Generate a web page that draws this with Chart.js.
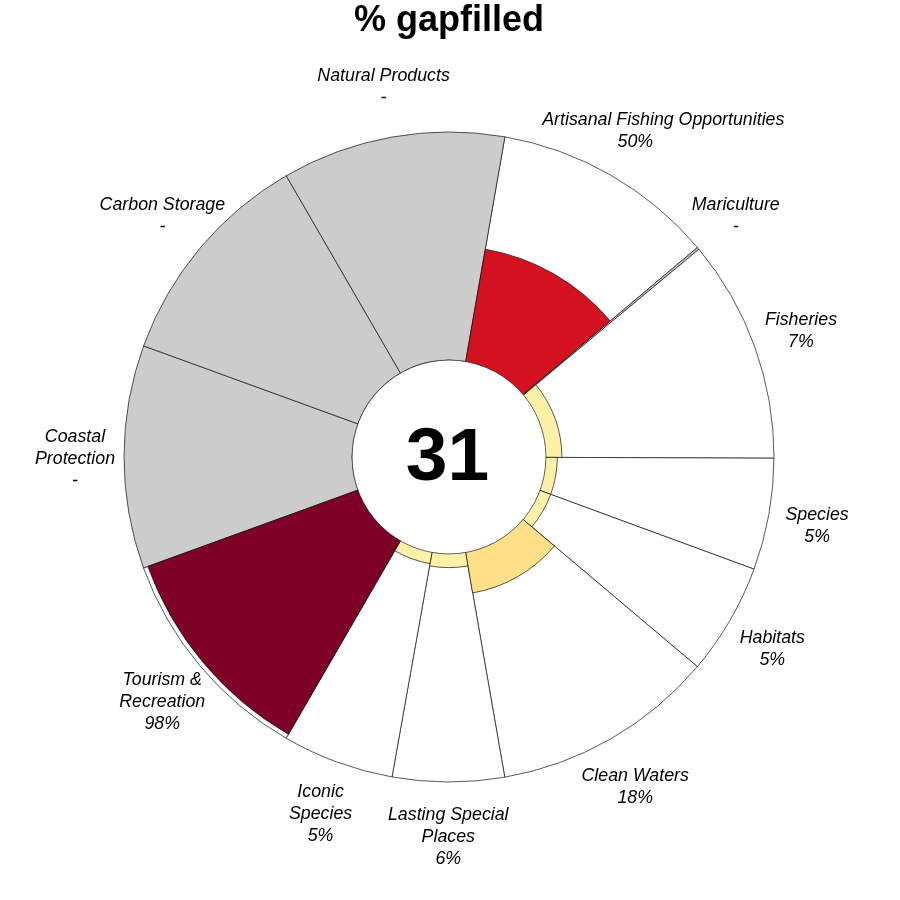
<!DOCTYPE html>
<html>
<head>
<meta charset="utf-8">
<script src="https://cdn.jsdelivr.net/npm/chart.js@4/dist/chart.umd.min.js"></script>
<style>
html,body{margin:0;padding:0;background:#fff;}
#wrap{width:900px;height:900px;position:relative;}
</style>
</head>
<body>
<div id="wrap"><canvas id="c"></canvas></div>
<script>
// ---- data ----
const goals = ["Artisanal Fishing Opportunities", "Mariculture", "Fisheries", "Species", "Habitats",
  "Clean Waters", "Lasting Special Places", "Iconic Species", "Tourism & Recreation",
  "Coastal Protection", "Carbon Storage", "Natural Products"];
const labelLines = [["Artisanal Fishing Opportunities"], ["Mariculture"], ["Fisheries"], ["Species"], ["Habitats"],
  ["Clean Waters"], ["Lasting Special", "Places"], ["Iconic", "Species"], ["Tourism &", "Recreation"],
  ["Coastal", "Protection"], ["Carbon Storage"], ["Natural Products"]];
const gapfilled = [50, null, 7, 5, 5, 18, 6, 5, 98, null, null, null];   // % gapfilled, null = "-"
const weights = [2, 0.02, 2, 1, 1, 2, 1, 1, 2, 2, 2, 2];               // petal widths
const overallScore = 31;
const chartTitle = "% gapfilled";

// ---- styling ----
const FONT = "'Liberation Sans', Arial, Helvetica, sans-serif";
function colorFor(v) {
  if (v === null) return '#CCCCCC';
  if (v < 10) return '#FFF0A8';
  if (v < 30) return '#FEE088';
  if (v < 75) return '#D31120';
  return '#7F0026';
}
const totalW = weights.reduce((a, b) => a + b, 0);
const angles = weights.map(w => w / totalW * 360);
const labelTexts = labelLines.map((ls, i) => ls.concat([gapfilled[i] === null ? '-' : gapfilled[i] + '%']));

const flowerPlugin = {
  id: 'flower',
  afterDatasetsDraw(chart) {
    const ctx = chart.ctx;
    const scale = chart.scales.r;
    const cx = scale.xCenter, cy = scale.yCenter;
    const r0 = scale.getDistanceFromCenterForValue(0);
    const rOut = scale.getDistanceFromCenterForValue(100);
    ctx.save();
    // center disk
    ctx.beginPath();
    ctx.arc(cx, cy, r0, 0, Math.PI * 2);
    ctx.fillStyle = '#fff';
    ctx.fill();
    ctx.lineWidth = 0.7;
    ctx.strokeStyle = '#222';
    ctx.stroke();
    ctx.fillStyle = '#000';
    ctx.font = 'bold 75px ' + FONT;
    ctx.textAlign = 'center';
    ctx.textBaseline = 'middle';
    ctx.fillText(String(overallScore), cx - 1.5, cy + 2);
    // labels
    const meta = chart.getDatasetMeta(1);
    ctx.font = 'italic 17.8px ' + FONT;
    const lh = 22;
    const shifts = chart.options.plugins.flower.lineShift || {};
    meta.data.forEach((arc, i) => {
      const mid = (arc.startAngle + arc.endAngle) / 2;
      const lx = cx + Math.cos(mid) * (rOut + 49);
      const ly = cy + 2 + Math.sin(mid) * (rOut + 53);
      const lines = labelTexts[i];
      const y0 = ly - (lines.length - 1) * lh / 2;
      lines.forEach((t, k) => {
        const dx = (shifts[i] && shifts[i][k]) || 0;
        ctx.fillText(t, lx + dx, y0 + k * lh);
      });
    });
    ctx.restore();
  }
};

new Chart(document.getElementById('c'), {
  type: 'polarArea',
  data: {
    labels: goals,
    datasets: [
      {
        label: 'gapfilled',
        data: gapfilled.map(v => v === null ? 0 : v),
        backgroundColor: gapfilled.map(colorFor),
        borderColor: '#111',
        borderWidth: 0.7,
        angle: c => angles[c.dataIndex]
      },
      {
        label: 'petal',
        data: gapfilled.map(() => 100),
        backgroundColor: gapfilled.map(v => v === null ? '#CCCCCC' : '#FFFFFF'),
        borderColor: '#111',
        borderWidth: 0.7,
        angle: c => angles[c.dataIndex]
      }
    ]
  },
  options: {
    responsive: true,
    maintainAspectRatio: false,
    animation: false,
    events: [],
    layout: { padding: { left: 124, right: 126, top: 0, bottom: 118 } },
    scales: {
      r: {
        display: false,
        min: -42.5,
        max: 100,
        startAngle: 9.9
      }
    },
    plugins: {
      legend: { display: false },
      tooltip: { enabled: false },
      title: {
        display: true,
        text: chartTitle,
        color: '#000',
        font: { family: FONT, size: 36, weight: 'bold', lineHeight: 1.0 },
        padding: { top: 3, bottom: 93 }
      },
      flower: { lineShift: { 0: { 0: 28 } } }
    }
  },
  plugins: [flowerPlugin]
});
</script>
</body>
</html>
